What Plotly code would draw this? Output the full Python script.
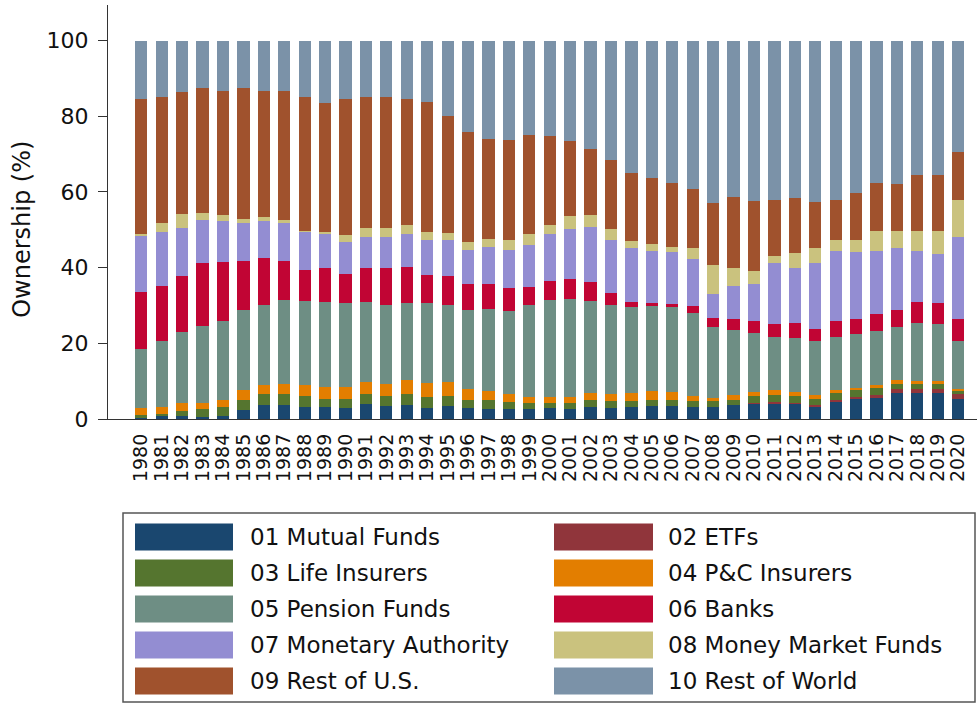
import plotly.graph_objects as go

years = list(range(1980, 2021))
tick_labels = [str(y) for y in years]

series_names = [
    "01 Mutual Funds", "02 ETFs", "03 Life Insurers", "04 P&C Insurers",
    "05 Pension Funds", "06 Banks", "07 Monetary Authority",
    "08 Money Market Funds", "09 Rest of U.S.", "10 Rest of World",
]

mutual_funds = [0.5, 0.7, 0.7, 0.5, 0.7, 2.3, 3.6, 3.6, 3.2, 3.2, 3.0, 3.9, 3.4, 3.6, 3.0, 3.4, 3.0, 2.7, 2.7, 2.7,
                3.0, 2.7, 3.2, 3.0, 3.2, 3.4, 3.4, 3.2, 3.2, 3.6, 4.0, 4.2, 4.0, 3.4, 4.6, 5.5, 5.8, 6.9, 6.9, 6.9, 5.4]
etfs = [0.0] * 30 + [0.2, 0.3, 0.2, 0.2, 0.3, 0.3, 0.5, 0.9, 1.1, 1.1, 1.1]
life_insurers = [0.5, 0.7, 1.4, 2.2, 2.5, 2.8, 3.1, 2.9, 2.8, 2.2, 2.4, 2.6, 2.6, 3.1, 2.8, 2.6, 1.9, 2.2, 1.8, 1.4,
                 1.2, 1.4, 1.7, 1.8, 1.6, 1.7, 1.5, 1.6, 1.6, 1.5, 1.8, 1.8, 1.8, 1.8, 2.0, 1.8, 2.0, 1.4, 1.2, 1.2, 0.9]
pc_insurers = [2.0, 1.8, 2.0, 1.5, 1.9, 2.5, 2.4, 2.8, 2.9, 3.1, 3.1, 3.3, 3.3, 3.7, 3.7, 3.8, 2.9, 2.5, 2.0, 1.7,
               1.6, 1.7, 2.0, 1.9, 2.1, 2.3, 2.2, 1.2, 0.8, 1.2, 1.1, 1.3, 1.1, 0.9, 0.7, 0.7, 0.6, 1.0, 0.9, 0.9, 0.6]
pension_funds = [15.6, 17.4, 18.9, 20.3, 20.7, 21.3, 21.1, 22.1, 22.3, 22.5, 22.2, 21.2, 20.8, 20.3, 21.2, 20.3, 21.1,
                 21.8, 22.1, 24.3, 25.6, 26.0, 24.3, 23.4, 22.7, 22.4, 22.5, 22.0, 18.7, 17.2, 15.5, 14.1, 14.2, 14.3,
                 14.1, 14.1, 14.4, 14.1, 15.3, 14.9, 12.6]
banks = [15.0, 14.6, 14.7, 16.6, 15.7, 12.8, 12.3, 10.4, 8.1, 8.8, 7.7, 8.8, 9.9, 9.5, 7.3, 7.6, 6.7, 6.6, 5.9, 4.8,
         5.0, 5.1, 5.0, 3.2, 1.4, 0.9, 0.9, 1.8, 2.5, 3.0, 3.3, 3.5, 4.1, 3.3, 4.2, 3.9, 4.4, 4.4, 5.6, 5.7, 5.9]
monetary_authority = [14.7, 14.3, 12.9, 11.6, 10.8, 10.0, 9.9, 10.1, 10.2, 9.1, 8.4, 8.3, 8.1, 8.7, 9.3, 9.6, 9.0, 9.7,
                      10.1, 11.2, 12.6, 13.2, 14.6, 14.0, 14.1, 13.7, 13.7, 12.4, 6.2, 8.6, 9.9, 16.0, 14.6, 17.4,
                      18.5, 17.9, 16.7, 16.4, 13.4, 12.8, 21.5]
money_market = [0.7, 2.2, 3.7, 1.8, 1.6, 1.2, 1.0, 0.8, 0.2, 0.6, 1.8, 2.5, 2.3, 2.3, 2.2, 1.9, 2.2, 2.0, 2.7, 2.8,
                2.2, 3.5, 3.1, 2.8, 2.0, 1.8, 1.3, 2.9, 7.7, 4.7, 3.4, 2.0, 3.9, 3.8, 3.0, 3.2, 5.3, 4.5, 5.2, 6.2, 9.8]
rest_of_us = [35.6, 33.3, 32.2, 32.9, 32.9, 34.5, 33.4, 33.9, 35.3, 33.9, 35.9, 34.4, 34.6, 33.3, 34.4, 30.9, 29.1,
              26.4, 26.4, 26.1, 23.6, 19.9, 17.4, 18.3, 17.8, 17.4, 16.9, 15.6, 16.4, 18.8, 18.5, 14.8, 14.4, 12.3,
              10.6, 12.4, 12.7, 12.5, 14.9, 14.8, 12.7]
rest_of_world = [15.4, 15.0, 13.5, 12.6, 13.2, 12.6, 13.2, 13.4, 15.0, 16.6, 15.5, 15.0, 15.0, 15.5, 16.1, 19.9, 24.1,
                 26.1, 26.3, 25.0, 25.2, 26.5, 28.7, 31.6, 35.1, 36.4, 37.6, 39.3, 42.9, 41.4, 42.3, 41.9, 41.7, 42.6,
                 42.0, 40.2, 37.6, 37.9, 35.5, 35.5, 29.5]

series_values = [mutual_funds, etfs, life_insurers, pc_insurers, pension_funds, banks,
                 monetary_authority, money_market, rest_of_us, rest_of_world]

colors = ["#1a476f", "#90353b", "#55752f", "#e37e00", "#6e8e84",
          "#c10534", "#938dd2", "#cac27e", "#a0522d", "#7b92a8"]

FONT = "DejaVu Sans, Verdana, sans-serif"

fig = go.Figure()
for name, vals, col in zip(series_names, series_values, colors):
    fig.add_trace(go.Bar(x=years, y=vals, name=name, marker=dict(color=col, line=dict(width=0)),
                         width=0.6, showlegend=False))

# plot area in pixels
W, H = 978, 705
L, R, T, B = 108, 1, 5, 286
PW, PH = W - L - R, H - T - B


def px(xp):
    return (xp - L) / PW


def py(yp):
    return (H - B - yp) / PH


shapes = []
annotations = []

# legend box
shapes.append(dict(type="rect", xref="paper", yref="paper", x0=px(123), x1=px(975), y0=py(702), y1=py(513),
                   line=dict(color="#555555", width=1.5), fillcolor="white", layer="below"))
row_centers = [537, 573, 609, 645, 681]
col_swatch_x = [(135, 233), (554, 653)]
col_text_x = [248, 666]
for i, (name, col) in enumerate(zip(series_names, colors)):
    r, c = i // 2, i % 2
    yc = row_centers[r]
    x0, x1 = col_swatch_x[c]
    shapes.append(dict(type="rect", xref="paper", yref="paper", x0=px(x0), x1=px(x1),
                       y0=py(yc + 13.5), y1=py(yc - 13.5), line=dict(width=0), fillcolor=col))
    annotations.append(dict(xref="paper", yref="paper", x=px(col_text_x[c]), y=py(yc), text=name,
                            showarrow=False, xanchor="left", yanchor="middle",
                            font=dict(family=FONT, size=23, color="#111111")))

# y axis title
annotations.append(dict(xref="paper", yref="y", x=0, y=50, xshift=-86, text="Ownership (%)", textangle=-90,
                        showarrow=False, xanchor="center", yanchor="middle",
                        font=dict(family=FONT, size=24, color="#111111")))

fig.update_layout(
    barmode="stack",
    width=W, height=H,
    margin=dict(l=L, r=R, t=T, b=B, pad=0),
    paper_bgcolor="white", plot_bgcolor="white",
    shapes=shapes, annotations=annotations,
    showlegend=False,
    font=dict(family=FONT, color="#111111"),
)
fig.update_xaxes(
    range=[1978.37, 2020.92], tickmode="array", tickvals=years, ticktext=tick_labels,
    tickangle=-90, tickfont=dict(family=FONT, size=19, color="#111111"),
    showline=True, linecolor="#333333", linewidth=1.3, ticks="", showgrid=False, zeroline=False,
    ticklabelstandoff=6,
)
fig.update_yaxes(
    range=[0, 109.4], tickmode="array", tickvals=[0, 20, 40, 60, 80, 100],
    tickfont=dict(family=FONT, size=22, color="#111111"),
    showline=True, linecolor="#333333", linewidth=1.3, ticks="outside", ticklen=9, tickcolor="#333333",
    tickwidth=1.3, showgrid=False, zeroline=False, ticklabelstandoff=5,
)

fig.write_html("out.html", config={"displayModeBar": False},
               post_script="document.body.style.margin='0';document.body.style.padding='0';")
